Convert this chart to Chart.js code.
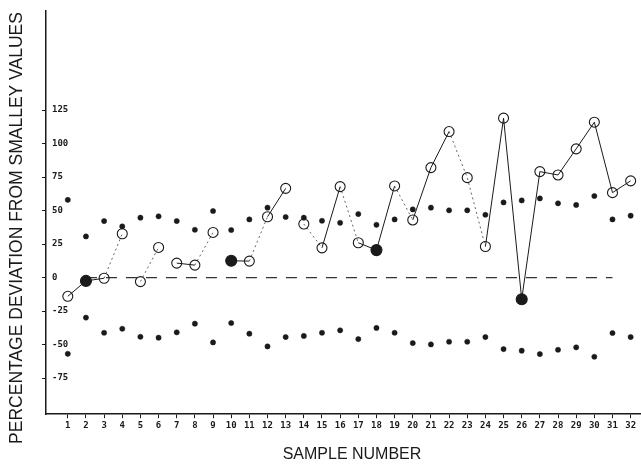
<!DOCTYPE html>
<html><head><meta charset="utf-8">
<script src="https://cdn.jsdelivr.net/npm/chart.js@4"></script>
<style>html,body{margin:0;padding:0;background:#fff}</style>
</head><body>
<canvas id="c" width="641" height="465" style="width:641px;height:465px;display:block"></canvas>
<script>
const samples = [1,2,3,4,5,6,7,8,9,10,11,12,13,14,15,16,17,18,19,20,21,22,23,24,25,26,27,28,29,30,31,32];
const deviation = [-14,-2.5,-0.5,32.7,-3,22.5,10.8,9.3,33.7,12.5,12.3,45.4,66.6,40,22.2,67.9,26,20.5,68.4,43,82.1,109,74.6,23.2,119,-16.2,79.1,76.6,96.1,116,63.4,72.2];
const upperLimit = [58,30.7,42.2,38.2,44.7,45.7,42.2,35.7,49.7,35.5,43.4,52.2,45.2,44.7,42.4,40.9,47.4,39.4,43.4,50.9,52.2,50.2,50.2,46.9,56.1,57.6,59.1,55.4,54.2,60.9,43.4,46.2];
const lowerLimit = [-56.9,-29.9,-41.2,-38.2,-44.2,-44.9,-40.9,-34.4,-48.4,-33.9,-41.9,-51.4,-44.4,-43.6,-41.2,-39.4,-45.9,-37.6,-41.2,-48.9,-49.9,-47.9,-47.9,-44.4,-53.4,-54.6,-57.1,-53.9,-52.1,-59.1,-41.4,-44.4];
const filledSamples = [2,10,18,26];
// connection type between sample i and i+1: s = solid, d = dotted, n = not visible
const segmentStyle = ['s','s','d','n','d','n','s','d','n','s','d','s','n','d','s','d','s','s','d','s','s','d','d','s','s','s','s','s','s','s','s'];
const yTickValues = [-75,-50,-25,0,25,50,75,100,125];
const xTickValues = samples;
const zeroLine = [{x:2,y:0},{x:31,y:0}];
const xTitle = 'SAMPLE NUMBER';
const yTitle = 'PERCENTAGE DEVIATION FROM SMALLEY VALUES';

const ink = '#1a1a1a';
const mainPts = samples.map((s,i)=>({x:s,y:deviation[i]}));
const upPts = samples.map((s,i)=>({x:s,y:upperLimit[i]}));
const loPts = samples.map((s,i)=>({x:s,y:lowerLimit[i]}));
const isFilled = samples.map(s=>filledSamples.includes(s));

const titles = {
  id:'titles',
  afterDraw(chart){
    const c = chart.ctx;
    c.save();
    c.fillStyle = ink;
    c.textAlign = 'center';
    c.textBaseline = 'middle';
    c.font = '16px "Liberation Sans"';
    c.fillText(xTitle, 352, 455);
    c.translate(17, 228);
    c.rotate(-Math.PI/2);
    c.font = '17.5px "Liberation Sans"';
    c.fillText(yTitle, 0, 0);
    c.restore();
  }
};

new Chart(document.getElementById('c'), {
  type: 'line',
  data: {
    datasets: [
      {data: zeroLine, borderColor:'#333', borderWidth:1.2, borderDash:[11,9], pointRadius:0, order:5},
      {data: upPts, showLine:false, pointRadius:2.6, pointBackgroundColor:ink, pointBorderColor:ink, pointBorderWidth:0.5},
      {data: loPts, showLine:false, pointRadius:2.6, pointBackgroundColor:ink, pointBorderColor:ink, pointBorderWidth:0.5},
      {data: mainPts, borderColor:ink, borderWidth:1,
       pointRadius: isFilled.map(f=>f?5.5:5),
       pointBackgroundColor: isFilled.map(f=>f?ink:'rgba(0,0,0,0)'),
       pointBorderColor: ink, pointBorderWidth:1.1,
       segment: {
         borderColor: ctx => segmentStyle[ctx.p0DataIndex]==='n' ? 'rgba(0,0,0,0)' : (segmentStyle[ctx.p0DataIndex]==='d' ? '#666' : ink),
         borderDash: ctx => segmentStyle[ctx.p0DataIndex]==='d' ? [2,3] : undefined
       }}
    ]
  },
  plugins:[titles],
  options: {
    responsive:false, animation:false, devicePixelRatio:1,
    layout:{autoPadding:false, padding:{top:11,right:0,bottom:32,left:30}},
    plugins:{legend:{display:false}, tooltip:{enabled:false}},
    scales:{
      x:{type:'linear', min:-0.2, max:32.57,
        afterBuildTicks: s => { s.ticks = xTickValues.map(v=>({value:v})); },
        afterFit: s => { s.paddingRight = 0; s.paddingLeft = 0; },
        grid:{drawOnChartArea:false, tickLength:4, color:ink},
        border:{color:ink, width:1.5},
        ticks:{color:ink, padding:2, font:{family:'DejaVu Sans Mono', size:9, weight:'bold'}, maxRotation:0, autoSkip:false}
      },
      y:{type:'linear', min:-102, max:199,
        afterBuildTicks: s => { s.ticks = yTickValues.map(v=>({value:v})); },
        afterFit: s => { s.paddingTop = 0; s.paddingBottom = 0; },
        grid:{drawOnChartArea:false, tickLength:4, color:ink},
        border:{color:ink, width:1.5},
        ticks:{mirror:true, color:ink, padding:6, font:{family:'DejaVu Sans Mono', size:9, weight:'bold'}}
      }
    }
  }
});
</script>
</body></html>
